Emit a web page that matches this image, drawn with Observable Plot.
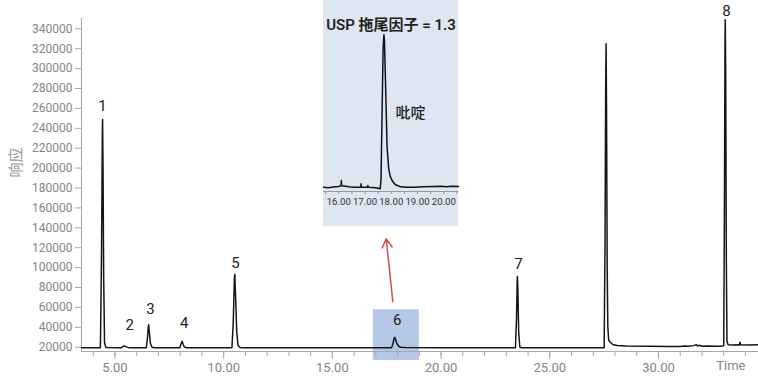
<!DOCTYPE html>
<html><head><meta charset="utf-8">
<script src="https://cdn.jsdelivr.net/npm/d3@7"></script>
<script src="https://cdn.jsdelivr.net/npm/@observablehq/plot@0.6"></script>
<style>
body{margin:0;background:#fff;}
#wrap{position:relative;width:758px;height:378px;overflow:hidden;background:#fff;}
#main,#inset{position:absolute;top:0;}
#main{left:0;}
#inset{left:323px;}
</style></head><body><div id="wrap"><div id="main"></div><div id="inset"></div></div>
<script>
// ---- main chromatogram ----
const xDomain = [3.46, 34.6];
const yDomain = [15700, 350350];
const yTicks = [20000,40000,60000,80000,100000,120000,140000,160000,180000,200000,220000,240000,260000,280000,300000,320000,340000];
const xMajorTicks = [5, 10, 15, 20, 25, 30];
const xMinorTicks = [4,5,6,7,8,9,10,11,12,13,14,15,16,17,18,19,20,21,22,23,24,25,26,27,28,29,30,31,32,33,34];
const xAxisTitle = "Time";
const xAxisTitlePos = [33.33];
const yAxisTitle = "响应";
const yAxisTitlePos = [190600];

const time = [3.46,4.00,4.33,4.38,4.42,4.43,4.45,4.48,4.52,4.58,5.30,5.36,5.42,5.50,5.60,5.70,6.44,6.49,6.53,6.55,6.58,6.63,6.70,6.80,7.98,8.04,8.09,8.13,8.20,8.30,10.38,10.44,10.49,10.51,10.55,10.60,10.66,10.75,10.90,13.0,15.0,17.0,17.72,17.78,17.84,17.87,17.91,17.97,18.05,18.15,18.35,20.0,22.0,23.42,23.47,23.50,23.51,23.53,23.57,23.62,23.70,26.0,27.50,27.54,27.57,27.59,27.61,27.64,27.67,27.71,27.78,27.90,28.10,28.50,29.5,30.5,31.0,31.2,31.35,31.6,31.75,31.8,31.9,32.0,32.3,32.6,32.9,33.00,33.03,33.06,33.07,33.09,33.12,33.15,33.20,33.40,33.65,33.72,33.75,33.78,34.1,34.6];
const response = [19500,19500,19500,110000,240000,248800,200000,90000,25000,19700,19500,20800,21400,20600,19800,19500,19500,28000,40000,42500,35000,24000,20000,19500,19500,23500,26000,23000,20000,19500,19500,45000,88000,93400,70000,35000,22000,19800,19500,19500,19400,19500,19500,23000,29000,30000,27500,23500,21000,20000,19600,19500,19400,19500,50000,86000,91000,80000,35000,20200,19500,19500,19500,120000,280000,325000,260000,100000,40000,27000,25000,22700,21800,21200,20900,20800,20800,21300,20900,21600,22400,21300,21900,21000,21300,21000,21100,21500,150000,330000,349000,300000,110000,26000,22600,22300,22400,22300,25000,22500,22300,22500];

const peakLabels = ["1","2","3","4","5","6","7","8"];
const peakLabelTime = [4.43, 5.68, 6.63, 8.18, 10.54, 17.98, 23.56, 33.13];
const peakLabelValue = [262200, 41800, 58600, 44500, 104100, 46800, 103100, 357500];

const highlightTime = [16.88, 19.0];
const highlightValue = [6600, 57600];

const arrowFrom = [17.78, 65900];
const arrowTo = [17.475, 128900];

// ---- inset ----
const insetXDomain = [15.42, 20.56];
const insetYDomain = [-2.25, 113.9];
const insetTicks = [15.5,16,16.5,17,17.5,18,18.5,19,19.5,20,20.5];
const insetTime = [15.42,15.6,15.8,16.0,16.08,16.09,16.10,16.11,16.4,16.6,16.84,16.85,16.86,17.10,17.11,17.12,17.4,17.58,17.61,17.65,17.69,17.72,17.74,17.78,17.84,17.90,17.96,18.03,18.15,18.35,18.6,18.9,19.2,19.6,19.9,20.1,20.3,20.56];
const insetValue = [0.3,0.1,0.5,0.8,1.3,1.5,4.4,1.2,0.6,0.4,0.4,2.4,0.4,0.3,1.4,0.3,0.0,-0.6,5,45,85,93,90,65,25,12,7,4.4,2,0.6,0.3,0.4,0.6,0.8,1.0,0.7,1.0,0.8];
const insetTitle = "USP 拖尾因子 = 1.3";
const insetCompound = "吡啶";
const insetCompoundPos = [18.73, 45.2];

const FONT = "Roboto, 'Noto Sans CJK SC', sans-serif";

const mainData = time.map((t, i) => ({t, v: response[i]}));
const labels = peakLabels.map((s, i) => ({s, t: peakLabelTime[i], v: peakLabelValue[i]}));

const main = Plot.plot({
  width: 758, height: 378,
  marginLeft: 81, marginRight: 0, marginTop: 18, marginBottom: 27,
  style: {background: "transparent", fontFamily: FONT, overflow: "visible"},
  x: {domain: xDomain},
  y: {domain: yDomain},
  marks: [
    Plot.rect([0], {x1: highlightTime[0], x2: highlightTime[1], y1: highlightValue[0], y2: highlightValue[1], fill: "#b5c7e6"}),
    Plot.ruleY([yDomain[0]], {stroke: "#a8a8a8", strokeWidth: 1}),
    Plot.ruleX([xDomain[0]], {stroke: "#a8a8a8", strokeWidth: 1}),
    Plot.axisY({ticks: yTicks, tickSize: 6, tickPadding: 3, fontSize: 12, fill: "#858585", stroke: "#a8a8a8", label: null, tickFormat: d => String(d)}),
    Plot.axisX({ticks: xMinorTicks, tickSize: 5, tickFormat: () => "", stroke: "#a8a8a8", label: null}),
    Plot.axisX({ticks: xMajorTicks, tickSize: 8, tickPadding: 3, fontSize: 13, fill: "#858585", stroke: "#a8a8a8", label: null, tickFormat: d => d.toFixed(2)}),
    Plot.text([xAxisTitle], {x: xAxisTitlePos[0], frameAnchor: "bottom", dy: 18, fontSize: 13, fill: "#858585", text: d => d}),
    Plot.text([yAxisTitle], {y: yAxisTitlePos[0], frameAnchor: "left", dx: -65, rotate: -90, fontSize: 15, fill: "#999", text: d => d}),
    Plot.line(mainData, {x: "t", y: "v", stroke: "#151515", strokeWidth: 1.5}),
    Plot.text(labels, {x: "t", y: "v", text: "s", fontSize: 15, fill: "#222"}),
    Plot.arrow([0], {x1: arrowFrom[0], y1: arrowFrom[1], x2: arrowTo[0], y2: arrowTo[1], stroke: "#cc4f50", strokeWidth: 1.5, headLength: 10, headAngle: 60})
  ]
});
document.getElementById("main").appendChild(main);

const insetData = insetTime.map((t, i) => ({t, v: insetValue[i]}));
const inset = Plot.plot({
  width: 135, height: 226,
  marginLeft: 0, marginRight: 0, marginTop: 0, marginBottom: 35,
  style: {background: "#dde6f1", fontFamily: FONT, overflow: "visible"},
  x: {domain: insetXDomain},
  y: {domain: insetYDomain, axis: null},
  marks: [
    Plot.ruleY([insetYDomain[0]], {stroke: "#9a9a9a", strokeWidth: 1}),
    Plot.axisX({ticks: insetTicks, tickSize: 3, tickPadding: 4, fontSize: 9.6, fill: "#333", stroke: "#9a9a9a", label: null, tickFormat: d => Number.isInteger(d) ? d.toFixed(2) : ""}),
    Plot.line(insetData, {x: "t", y: "v", stroke: "#111", strokeWidth: 1.5}),
    Plot.text([insetTitle], {frameAnchor: "top", dy: 19, fontSize: 15, fontWeight: 600, fill: "#222", text: d => d}),
    Plot.text([insetCompound], {x: insetCompoundPos[0], y: insetCompoundPos[1], fontSize: 15, fontWeight: 500, fill: "#222", text: d => d})
  ]
});
document.getElementById("inset").appendChild(inset);
</script>
</body></html>
